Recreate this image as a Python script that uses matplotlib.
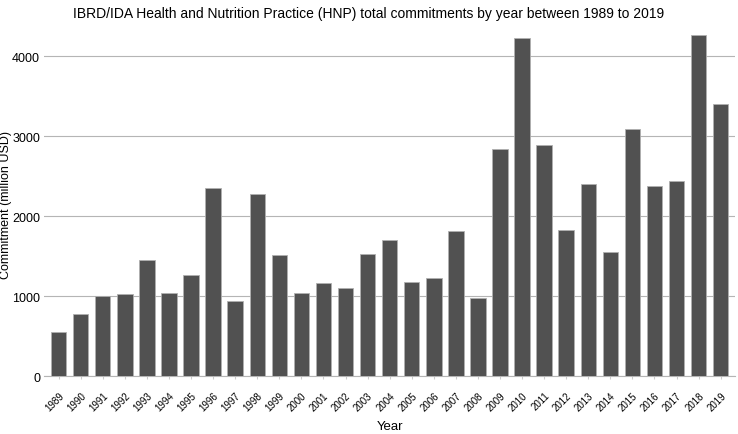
import matplotlib
matplotlib.use("Agg")
import matplotlib.pyplot as plt
import numpy as np

years = [str(y) for y in range(1989, 2020)]
commitments = [550, 775, 1008, 1025, 1458, 1038, 1267, 2354, 946, 2279,
               1517, 1046, 1167, 1104, 1533, 1700, 1183, 1233, 1821, 975,
               2842, 4237, 2892, 1833, 2408, 1550, 3092, 2375, 2438, 4270,
               3408]
y_ticks = [0, 1000, 2000, 3000, 4000]

plt.rcParams["font.family"] = ["Liberation Sans", "DejaVu Sans"]

fig = plt.figure(figsize=(7.38, 4.35), dpi=100)
ax = fig.add_axes([0.06, 0.133, 0.936, 0.79])

x = np.arange(len(years))
ax.bar(x, commitments, width=0.7, color="#515151", edgecolor="#b0b0b0",
       linewidth=0.6, zorder=3)

ax.set_xlim(-0.65, len(years) - 0.35)
ax.set_ylim(0, 4300)
ax.set_yticks(y_ticks)
ax.set_yticklabels([str(v) for v in y_ticks], fontsize=9)
ax.set_xticks(x)
ax.set_xticklabels(years, rotation=45, fontsize=7, ha="right",
                   rotation_mode="anchor")
ax.tick_params(axis="x", length=2, color="#cccccc", pad=8)
ax.tick_params(axis="y", length=0, pad=3)

ax.grid(axis="y", color="#b5b5b5", linewidth=0.8, zorder=0)
for side in ["top", "right", "left"]:
    ax.spines[side].set_visible(False)
ax.spines["bottom"].set_color("#b5b5b5")

ax.set_xlabel("Year", fontsize=9.5, labelpad=5)
ax.set_ylabel("Commitment (million USD)", fontsize=9)
ax.yaxis.set_label_coords(-0.047, 0.5)
fig.suptitle("IBRD/IDA Health and Nutrition Practice (HNP) total commitments by year between 1989 to 2019",
             fontsize=10, y=0.985)

fig.savefig("out.png", dpi=100)
